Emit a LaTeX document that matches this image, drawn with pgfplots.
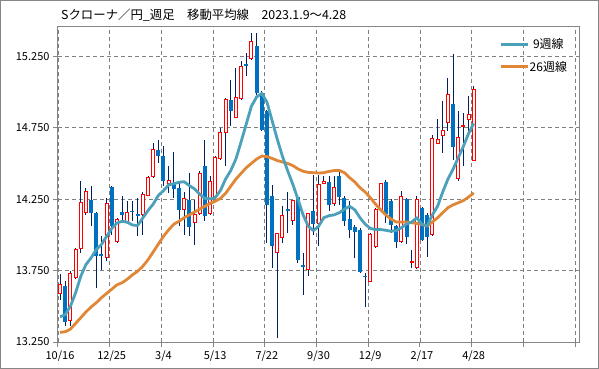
\documentclass[border=0pt]{standalone}
\usepackage{fontspec}
\setmainfont{Noto Sans CJK JP}
\usepackage{pgfplots}
\pgfplotsset{compat=1.18}
\usepackage{pgfplotstable}
\definecolor{cred}{RGB}{255,0,0}
\definecolor{cblue}{RGB}{0,112,192}
\definecolor{wick}{RGB}{0,32,96}
\definecolor{ma9}{RGB}{75,160,186}
\definecolor{ma26}{RGB}{224,135,55}
\definecolor{gridc}{RGB}{128,128,128}
\definecolor{axc}{RGB}{134,134,134}

\pgfplotstableread{
i O H L C
0 13.589 13.727 13.543 13.650
2 13.403 13.75 13.36 13.727
3 13.699 13.91 13.69 13.897
4 13.902 14.379 13.874 14.223
5 14.153 14.328 14.142 14.305
9 13.839 14.258 13.815 14.223
11 13.955 14.12 13.94 14.111
13 14.095 14.235 14.08 14.153
16 14.14 14.30 14.0 14.28
17 14.274 14.41 14.27 14.398
18 14.41 14.642 14.40 14.596
21 14.358 14.479 14.293 14.381
24 14.181 14.297 14.0 14.258
26 14.088 14.246 13.932 14.141
27 14.153 14.444 14.141 14.433
29 14.148 14.41 14.141 14.374
30 14.27 14.55 14.258 14.538
31 14.533 14.747 14.526 14.719
32 14.719 14.957 14.48 14.946
34 14.824 15.167 14.817 14.962
35 14.957 15.214 14.946 15.179
37 15.237 15.412 15.225 15.353
42 13.878 14.013 13.279 14.008
43 13.985 14.2 13.943 14.139
45 14.102 14.246 14.071 14.237
48 13.757 14.153 13.71 14.148
50 14.083 14.421 13.92 14.351
51 14.361 14.41 14.355 14.377
53 14.216 14.41 14.2 14.328
60 13.675 14.013 13.668 14.002
61 13.92 14.188 13.908 14.176
62 14.176 14.363 14.165 14.358
66 13.95 14.304 13.943 14.27
68 13.807 13.896 13.768 13.812
69 13.773 14.27 13.764 14.246
72 14.006 14.7 13.99 14.677
73 14.64 14.813 14.635 14.668
74 14.696 14.934 14.572 14.731
75 14.789 15.097 14.724 14.98
77 14.398 14.864 14.374 14.684
78 14.762 14.852 14.479 14.768
79 14.805 14.969 14.724 14.845
80 14.519 15.039 14.514 15.02
}\up

\pgfplotstableread{
i O H L C
1 13.645 13.675 13.361 13.389
6 14.246 14.344 14.06 14.153
7 14.153 14.16 13.629 13.85
8 13.866 13.99 13.757 13.85
10 14.333 14.34 14.0 14.06
12 14.16 14.27 14.095 14.14
14 14.17 14.235 14.095 14.16
15 14.148 14.258 13.99 14.13
19 14.591 14.666 14.5 14.554
20 14.549 14.62 14.34 14.374
22 14.358 14.577 14.258 14.321
23 14.328 14.374 14.06 14.172
25 14.246 14.433 13.99 14.055
28 14.479 14.666 14.095 14.13
33 14.941 15.085 14.759 14.864
36 15.197 15.272 15.109 15.183
38 15.323 15.412 14.98 14.992
39 14.992 15.004 14.724 14.736
40 14.864 14.876 13.943 14.211
41 14.274 14.351 13.768 13.92
44 14.181 14.297 14.013 14.165
46 14.265 14.27 13.803 13.822
47 13.792 13.873 13.577 13.775
49 14.165 14.42 14.0 14.075
52 14.372 14.414 14.165 14.211
54 14.414 14.456 14.211 14.263
55 14.258 14.27 14.06 14.095
56 14.111 14.235 13.978 14.032
57 14.055 14.072 13.838 14.02
58 14.037 14.048 13.733 13.738
59 13.715 13.733 13.496 13.703
63 14.37 14.381 14.083 14.148
64 14.235 14.251 14.013 14.072
65 14.06 14.072 13.908 13.95
67 14.253 14.258 13.936 13.983
70 14.188 14.192 13.955 13.966
71 14.141 14.153 13.843 13.983
76 14.915 15.265 14.526 14.612
}\dn

\pgfplotstableread{
i v
0 13.426
1 13.442
2 13.50
3 13.594
4 13.71
5 13.792
6 13.839
7 13.897
8 13.932
9 13.99
10 14.045
11 14.083
12 14.095
13 14.088
14 14.069
15 14.065
16 14.118
17 14.17
18 14.215
19 14.275
20 14.31
21 14.35
22 14.358
23 14.368
24 14.372
25 14.345
26 14.322
27 14.285
28 14.255
29 14.252
30 14.26
31 14.31
32 14.39
33 14.45
34 14.53
35 14.65
36 14.775
37 14.9
38 14.965
39 14.99
40 14.93
41 14.80
42 14.67
43 14.55
44 14.45
45 14.355
46 14.25
47 14.14
48 14.06
49 14.03
50 14.06
51 14.12
52 14.134
53 14.14
54 14.155
55 14.18
56 14.2
57 14.175
58 14.12
59 14.075
60 14.045
61 14.037
62 14.037
63 14.032
64 14.025
65 14.03
66 14.05
67 14.076
68 14.09
69 14.12
70 14.071
71 14.065
72 14.14
73 14.2
74 14.3
75 14.39
76 14.46
77 14.54
78 14.62
79 14.71
80 14.78
}\manine

\pgfplotstableread{
i v
0 13.317
1 13.322
2 13.34
3 13.38
4 13.42
5 13.46
6 13.495
7 13.525
8 13.56
9 13.59
10 13.62
11 13.65
12 13.665
13 13.69
14 13.72
15 13.745
16 13.78
17 13.825
18 13.88
19 13.935
20 13.99
21 14.035
22 14.075
23 14.095
24 14.12
25 14.14
26 14.16
27 14.18
28 14.2
29 14.22
30 14.235
31 14.255
32 14.29
33 14.34
34 14.39
35 14.43
36 14.47
37 14.5
38 14.53
39 14.552
40 14.548
41 14.535
42 14.52
43 14.51
44 14.5
45 14.485
46 14.462
47 14.445
48 14.437
49 14.435
50 14.433
51 14.435
52 14.444
53 14.45
54 14.451
55 14.435
56 14.4
57 14.37
58 14.33
59 14.3
60 14.26
61 14.215
62 14.175
63 14.14
64 14.11
65 14.09
66 14.09
67 14.09
68 14.085
69 14.08
70 14.072
71 14.062
72 14.09
73 14.12
74 14.155
75 14.19
76 14.21
77 14.225
78 14.24
79 14.265
80 14.293
}\matwentysix

\begin{document}
\begin{tikzpicture}
\draw[axc, fill=white, line width=1pt] (0.5pt,0.5pt) rectangle (598.5pt,368.5pt);
\node[anchor=west, inner sep=0pt, font=\fontsize{12.4}{14}\selectfont] at (61pt,354pt) {Sクローナ／円\_週足　移動平均線　2023.1.9～4.28};
\begin{axis}[at={(58pt,27pt)}, anchor=south west, scale only axis,
  width=521.5pt, height=315pt,
  xmin=-0.4, xmax=100.45, ymin=13.25, ymax=15.455,
  xtick={-0.4,9.6,19.6,29.6,39.6,49.6,59.6,69.6,79.6,89.6,99.6},
  xticklabels={10/16,12/25,3/4,5/13,7/22,9/30,12/9,2/17,4/28,,},
  ytick={13.25,13.75,14.25,14.75,15.25},
  yticklabels={13.250,13.750,14.250,14.750,15.250},
  grid=major,
  major grid style={gridc, dash pattern=on 4pt off 3pt, line width=0.8pt},
  axis line style={axc, line width=1pt},
  tick style={axc, line width=1pt},
  tick align=outside, major tick length=5pt,
  xtick pos=lower, ytick pos=left,
  tick label style={font=\fontsize{11}{13}\selectfont},
  x tick label style={xshift=2pt},
  reverse legend,
  legend style={at={(0.846,0.966)}, anchor=north west, draw=none, fill=none,
    inner sep=0pt, row sep=10pt, font=\fontsize{12}{14}\selectfont,
    nodes={inner sep=0.5pt}},
  legend image code/.code={\draw[#1] (0pt,0pt) -- (27pt,0pt);},
  candle/.style={forget plot, only marks, mark size=0pt, mark options={draw=none, fill=none},
    error bars/.cd, y dir=both, y explicit, error mark=none},
]
% wicks
\addplot[candle, error bar style={wick, line width=0.9pt}]
  table[x=i, y expr={(\thisrow{H}+\thisrow{L})/2}, y error expr={(\thisrow{H}-\thisrow{L})/2}] {\up};
\addplot[candle, error bar style={wick, line width=0.9pt}]
  table[x=i, y expr={(\thisrow{H}+\thisrow{L})/2}, y error expr={(\thisrow{H}-\thisrow{L})/2}] {\dn};
% down bodies
\addplot[candle, error bar style={cblue, line width=4pt}]
  table[x=i, y expr={(\thisrow{O}+\thisrow{C})/2}, y error expr={max((\thisrow{O}-\thisrow{C})/2,0.0035)}] {\dn};
% up bodies
\addplot[candle, error bar style={cred, line width=4pt}]
  table[x=i, y expr={(\thisrow{O}+\thisrow{C})/2}, y error expr={max((\thisrow{C}-\thisrow{O})/2+0.0035,0.0035)}] {\up};
\addplot[candle, error bar style={white, line width=2pt}]
  table[x=i, y expr={(\thisrow{O}+\thisrow{C})/2}, y error expr={max((\thisrow{C}-\thisrow{O})/2-0.0035,0)}] {\up};
% moving averages
\addplot[ma26, line width=2.8pt, line join=round, mark=none] table[x=i, y=v] {\matwentysix};
\addlegendentry{26週線}
\addplot[ma9, line width=2.8pt, line join=round, mark=none] table[x=i, y=v] {\manine};
\addlegendentry{9週線}
\end{axis}
\end{tikzpicture}
\end{document}
